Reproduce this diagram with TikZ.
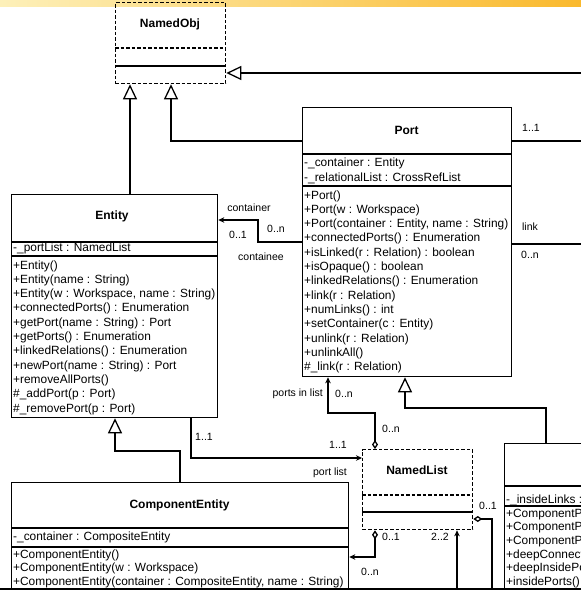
\documentclass[tikz,border=0pt]{standalone}
\usepackage{fontspec}
\setmainfont{Liberation Sans}
\usetikzlibrary{arrows.meta,calc}
\definecolor{stripA}{RGB}{253,240,185}
\definecolor{stripB}{RGB}{250,185,45}
\begin{document}
\begin{tikzpicture}[x=1pt,y=-1pt,
  box/.style={draw, line width=1.3pt, anchor=north west, inner sep=0},
  dbox/.style={box, dash pattern=on 3.5pt off 2pt},
  ln/.style={line width=1.3pt},
  gen/.style={ln, -{Triangle[open,length=15pt,width=14pt,fill=white]}},
  nav/.style={ln, -{Stealth[length=6pt,width=5.5pt]}},
  agg/.style={ln, {Diamond[open,length=9pt,width=6pt]}-},
  aggnav/.style={ln, {Diamond[open,length=9pt,width=6pt]}-{Stealth[length=6pt,width=5.5pt]}},
  mem/.style={anchor=base west, inner sep=0, font=\fontsize{11.9}{13}\selectfont},
  ttl/.style={inner sep=0, font=\bfseries\fontsize{12}{14}\selectfont},
  lbl/.style={inner sep=0, font=\fontsize{10.5}{12}\selectfont}]
\useasboundingbox (0,0) rectangle (581,590);
\clip (0,0) rectangle (581,590);
\fill[white] (0,0) rectangle (581,590);
\shade[left color=stripA, right color=stripB] (0,0) rectangle (581,6);

% ---- NamedObj
\node[dbox, minimum width=110pt, minimum height=81pt] (namedobj) at (115,2) {};
\node[ttl] (namedobjT) at (170,24) {NamedObj};
\draw[ln, dash pattern=on 3.5pt off 2pt] (namedobj.west |- 0,48) -- (namedobj.east |- 0,48);
\draw[ln] (namedobj.west |- 0,66) -- (namedobj.east |- 0,66);

% ---- Port
\node[box, minimum width=209pt, minimum height=269pt] (port) at (302,107) {};
\node[ttl] (portT) at (406.5,130) {Port};
\draw[ln] (port.west |- 0,154) -- (port.east |- 0,154);
\draw[ln] (port.west |- 0,186) -- (port.east |- 0,186);
\node[mem] (pa1) at (304,166) {-\_container : Entity};
\node[mem] (pa2) at (304,181) {-\_relationalList : CrossRefList};
\foreach \t [count=\i] in {+Port(),{+Port(w : Workspace)},{+Port(container : Entity, name : String)},
  +connectedPorts() : Enumeration,+isLinked(r : Relation) : boolean,+isOpaque() : boolean,
  +linkedRelations() : Enumeration,+link(r : Relation),+numLinks() : int,
  +setContainer(c : Entity),+unlink(r : Relation),+unlinkAll(),\#\_link(r : Relation)}
  \node[mem] (pm\i) at (304,{199+14.33*(\i-1)}) {\t};

% ---- Entity
\node[box, minimum width=206pt, minimum height=223pt] (entity) at (11,194) {};
\node[ttl] (entityT) at (112,216) {Entity};
\draw[ln] (entity.west |- 0,242) -- (entity.east |- 0,242);
\draw[ln] (entity.west |- 0,256) -- (entity.east |- 0,256);
\node[mem] (ea1) at (13,251) {-\_portList : NamedList};
\foreach \t [count=\i] in {+Entity(),{+Entity(name : String)},{+Entity(w : Workspace, name : String)},
  +connectedPorts() : Enumeration,{+getPort(name : String) : Port},+getPorts() : Enumeration,
  +linkedRelations() : Enumeration,{+newPort(name : String) : Port},+removeAllPorts(),
  \#\_addPort(p : Port),\#\_removePort(p : Port)}
  \node[mem] (em\i) at (13,{269+14.3*(\i-1)}) {\t};

% ---- ComponentEntity
\node[box, minimum width=337pt, minimum height=140pt] (compent) at (11,482) {};
\node[ttl] (compentT) at (179.5,505) {ComponentEntity};
\draw[ln] (compent.west |- 0,528) -- (compent.east |- 0,528);
\draw[ln] (compent.west |- 0,547) -- (compent.east |- 0,547);
\node[mem] (ca1) at (13,540) {-\_container : CompositeEntity};
\foreach \t [count=\i] in {+ComponentEntity(),{+ComponentEntity(w : Workspace)},
  {+ComponentEntity(container : CompositeEntity, name : String)}}
  \node[mem] (cm\i) at (13,{558+13.6*(\i-1)}) {\t};

% ---- NamedList
\node[dbox, minimum width=110pt, minimum height=80pt] (namedlist) at (362,449) {};
\node[ttl] (namedlistT) at (417,470) {NamedList};
\draw[ln, dash pattern=on 3.5pt off 2pt] (namedlist.west |- 0,495) -- (namedlist.east |- 0,495);
\draw[ln] (namedlist.west |- 0,512) -- (namedlist.east |- 0,512);

% ---- ComponentPort (cut off at right)
\node[box, minimum width=200pt, minimum height=200pt] (cport) at (504,443) {};
\draw[ln] (cport.west |- 0,486) -- (cport.east |- 0,486);
\draw[ln] (cport.west |- 0,506) -- (cport.east |- 0,506);
\node[mem] (qa1) at (506,503) {-\_insideLinks : CrossRefList};
\foreach \t [count=\i] in {+ComponentPort(),{+ComponentPort(w : Workspace)},
  {+ComponentPort(container : ComponentEntity, name : String)},
  +deepConnectedPorts() : Enumeration,+deepInsidePorts() : Enumeration,+insidePorts() : Enumeration}
  \node[mem] (qm\i) at (506,{517+13.7*(\i-1)}) {\t};

% ---- connectors
\coordinate (b1) at (171,141);
\draw[gen] (port.west |- b1) -- (b1) -- (namedobj.south -| b1);
\coordinate (g1) at (130,150);
\draw[gen] (entity.north -| g1) -- (namedobj.south -| g1);
\coordinate (r1) at (600,73);
\draw[gen] (r1) -- (namedobj.east |- r1);
\coordinate (r2) at (600,141);
\draw[ln] (port.east |- r2) -- (r2);
\coordinate (r3) at (600,244);
\draw[ln] (port.east |- r3) -- (r3);

\coordinate (c1) at (258,242);
\coordinate (c2) at (258,220);
\draw[nav] (port.west |- c1) -- (c1) -- (c2) -- (entity.east |- c2);

\coordinate (p1) at (375,413);
\coordinate (p2) at (328,413);
\draw[aggnav] (namedlist.north -| p1) -- (p1) -- (p2) -- (port.south -| p2);

\coordinate (q1) at (546,408);
\coordinate (q2) at (405,408);
\draw[gen] (cport.north -| q1) -- (q1) -- (q2) -- (port.south -| q2);

\coordinate (s1) at (191,458);
\draw[nav] (entity.south -| s1) -- (s1) -- (namedlist.west |- s1);

\coordinate (t1) at (180,451);
\coordinate (t2) at (115,451);
\draw[gen] (compent.north -| t1) -- (t1) -- (t2) -- (entity.south -| t2);

\coordinate (u1) at (375,557);
\draw[aggnav] (namedlist.south -| u1) -- (u1) -- (compent.east |- u1);

\coordinate (v1) at (457,600);
\draw[nav] (v1) -- (namedlist.south -| v1);

\coordinate (w1) at (492,519);
\coordinate (w2) at (492,600);
\draw[agg] (namedlist.east |- w1) -- (w1) -- (w2);

% ---- labels
\node[lbl] (l1) at (531,128) {1..1};
\node[lbl] (l2) at (530,227) {link};
\node[lbl] (l3) at (530,255) {0..n};
\node[lbl] (l4) at (249,208) {container};
\node[lbl] (l5) at (238,235) {0..1};
\node[lbl] (l6) at (276,229) {0..n};
\node[lbl] (l7) at (261,257) {containee};
\node[lbl, anchor=east] (l8) at (323,394) {ports in list};
\node[lbl] (l9) at (344,394) {0..n};
\node[lbl] (l10) at (391,429) {0..n};
\node[lbl] (l11) at (204,437) {1..1};
\node[lbl] (l12) at (338,445) {1..1};
\node[lbl] (l13) at (330,473) {port list};
\node[lbl] (l14) at (391,537) {0..1};
\node[lbl] (l15) at (370,572) {0..n};
\node[lbl] (l16) at (440,537) {2..2};
\node[lbl] (l17) at (488,506) {0..1};

% bottom bar
\fill[black] (0,587.5) rectangle (581,591);
\end{tikzpicture}
\end{document}
